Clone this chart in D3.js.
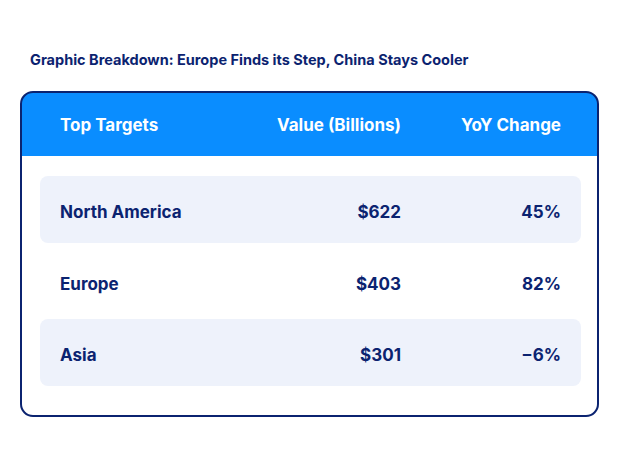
<!DOCTYPE html>
<html><head><meta charset="utf-8">
<script src="https://cdn.jsdelivr.net/npm/d3@7"></script>
<style>body{margin:0;background:#fff}</style>
</head><body><div id="chart"></div>
<script>
const title = "Graphic Breakdown: Europe Finds its Step, China Stays Cooler";
const headers = ["Top Targets", "Value (Billions)", "YoY Change"];
const regions = ["North America", "Europe", "Asia"];
const values = ["$622", "$403", "$301"];
const yoy = ["45%", "82%", "\u22126%"];

const W = 619, H = 459;
const navy = "#0b2370", blue = "#0a8dff", band = "#eef2fb";
const font = "Inter, 'Open Sans', sans-serif";

const svg = d3.select("#chart").append("svg").attr("width", W).attr("height", H);

svg.append("text").attr("x", 30).attr("y", 65)
  .attr("font-family", font).attr("font-weight", 700).attr("font-size", 14.5)
  .attr("fill", navy).text(title);

// table frame
const box = { x: 21, y: 92, w: 577, h: 324, r: 12 };
const defs = svg.append("defs");
defs.append("clipPath").attr("id", "clip").append("rect")
  .attr("x", box.x).attr("y", box.y).attr("width", box.w).attr("height", box.h).attr("rx", box.r);
svg.append("rect").attr("x", box.x).attr("y", box.y).attr("width", box.w).attr("height", 64)
  .attr("fill", blue).attr("clip-path", "url(#clip)");

// column positions: first left-aligned, others right-aligned
const colX = [60, 401, 561];
const anchor = ["start", "end", "end"];

const y = d3.scalePoint().domain(regions).range([212, 355]);

svg.append("g").selectAll("rect").data(regions.filter((d, i) => i % 2 === 0)).join("rect")
  .attr("x", 40).attr("width", 541).attr("y", d => y(d) - 36).attr("height", 67)
  .attr("rx", 8).attr("fill", band);

svg.append("rect").attr("x", box.x).attr("y", box.y).attr("width", box.w).attr("height", box.h)
  .attr("rx", box.r).attr("fill", "none").attr("stroke", navy).attr("stroke-width", 2);

svg.append("g").selectAll("text").data(headers).join("text")
  .attr("x", (d, i) => colX[i]).attr("y", 131).attr("text-anchor", (d, i) => anchor[i])
  .attr("font-family", font).attr("font-weight", 700).attr("font-size", 17)
  .attr("fill", "#fff").text(d => d);

const rows = regions.map((r, i) => [r, values[i], yoy[i]]);
const rowG = svg.append("g").selectAll("g").data(rows).join("g")
  .attr("transform", (d, i) => `translate(0,${y(regions[i]) + 6})`);
rowG.selectAll("text").data(d => d).join("text")
  .attr("x", (d, i) => colX[i]).attr("text-anchor", (d, i) => anchor[i])
  .attr("font-family", font).attr("font-weight", 700).attr("font-size", 17)
  .attr("fill", navy).text(d => d);
</script></body></html>
